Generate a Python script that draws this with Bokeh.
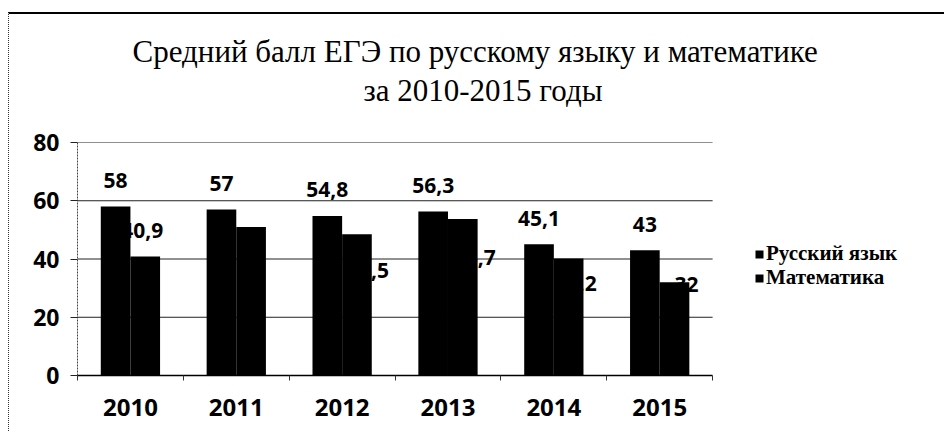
from bokeh.plotting import figure
from bokeh.models import (Range1d, Title, ColumnDataSource, FixedTicker,
                          Legend, LegendItem)
from bokeh.transform import dodge
from bokeh.core.properties import value
from bokeh.embed import file_html
from bokeh.resources import INLINE

# ---- data ----
years = ["2010", "2011", "2012", "2013", "2014", "2015"]
russian = [58, 57, 54.8, 56.3, 45.1, 43]
math = [40.9, 51, 48.5, 53.7, 40.2, 32]
series_names = ["Русский язык", "Математика"]
y_ticks = [0, 20, 40, 60, 80]
title_lines = ["Средний балл ЕГЭ по русскому языку и математике", "за 2010-2015 годы"]

# pixel displacement of the (misplaced) math data labels in the original
math_label_dx = [-3, 0, 11, 12, 7, 12]
math_label_dy = [-26, 40, 36, 38, 25, 2]


def fmt(v):
    return ("%g" % v).replace(".", ",")


n = len(years)
pos = list(range(n))                      # category slots 0..n-1
cat_lo, cat_hi = -0.5, n - 0.5            # extent of the category axis

src = ColumnDataSource(dict(
    pos=pos,
    russian=russian,
    math=math,
    rus_lbl=[fmt(v) for v in russian],
    math_lbl=[fmt(v) for v in math],
    mdx=math_label_dx,
    mdy=math_label_dy,
))

# the frame is extended to the right (empty space) so the legend can live in it
p = figure(
    x_range=Range1d(cat_lo, cat_lo + 8.2),
    y_range=Range1d(0, 80),
    width=936, height=419,
    output_backend="svg",
    toolbar_location=None,
    title=None,
    min_border_left=68, min_border_right=0,
    min_border_top=128, min_border_bottom=58,
)
p.margin = (12, 0, 0, 8)
p.styles = {"border-top": "2px solid black", "border-left": "1px dotted #333"}
p.outline_line_color = None
p.background_fill_color = "white"
p.border_fill_color = "white"

serif = "Liberation Serif"
t2 = Title(text=title_lines[1], align="left", offset=286, standoff=69,
           text_font=serif, text_font_size="31px",
           text_font_style="normal", text_color="black")
t1 = Title(text=title_lines[0], align="left", offset=55, standoff=-65,
           text_font=serif, text_font_size="31px",
           text_font_style="normal", text_color="black")
p.add_layout(t2, "above")
p.add_layout(t1, "above")

# horizontal gridlines limited to the category area
grid_y = [t for t in y_ticks if t > 0]
p.segment(x0=[cat_lo] * len(grid_y), x1=[cat_hi] * len(grid_y), y0=grid_y, y1=grid_y,
          line_color="#222", line_width=1)

# math labels drawn first so the bars hide them partly (as in the original)
p.text(x=dodge("pos", 0.14), y="math", text="math_lbl",
       x_offset="mdx", y_offset="mdy", source=src,
       text_align="center", text_baseline="middle",
       text_font=value("Open Sans"), text_font_size="21px",
       text_font_style="bold", text_color="black")

r_rus = p.vbar(x=dodge("pos", -0.14), top="russian", width=0.28,
               source=src, fill_color="black", line_color=None)
r_math = p.vbar(x=dodge("pos", 0.14), top="math", width=0.28,
                source=src, fill_color="black", line_color=None)

p.text(x=dodge("pos", -0.14), y="russian", text="rus_lbl",
       y_offset=-26, source=src,
       text_align="center", text_baseline="middle",
       text_font=value("Open Sans"), text_font_size="21px",
       text_font_style="bold", text_color="black")

# axes
p.yaxis.ticker = FixedTicker(ticks=y_ticks)
p.yaxis.axis_line_color = "#444"
p.yaxis.axis_line_dash = "2 1"
p.yaxis.major_tick_out = 7
p.yaxis.major_tick_in = 0
p.yaxis.major_tick_line_color = "#222"
p.yaxis.minor_tick_line_color = None
p.yaxis.major_label_standoff = 11
p.yaxis.major_label_text_font = "Open Sans"
p.yaxis.major_label_text_font_size = "23px"
p.yaxis.major_label_text_font_style = "bold"
p.yaxis.major_label_text_color = "black"

p.xaxis.ticker = FixedTicker(ticks=pos, minor_ticks=[i - 0.5 for i in range(n + 1)])
p.xaxis.major_label_overrides = {i: y for i, y in zip(pos, years)}
p.xaxis.bounds = (cat_lo, cat_hi)
p.xaxis.axis_line_color = "black"
p.xaxis.axis_line_width = 1.5
p.xaxis.major_tick_line_color = None
p.xaxis.major_tick_out = 0
p.xaxis.major_tick_in = 0
p.xaxis.minor_tick_line_color = "#333"
p.xaxis.minor_tick_out = 5
p.xaxis.minor_tick_in = 0
p.xaxis.major_label_standoff = 18
p.xaxis.major_label_text_font = "Open Sans"
p.xaxis.major_label_text_font_size = "24px"
p.xaxis.major_label_text_font_style = "bold"
p.xaxis.major_label_text_color = "black"

p.xgrid.grid_line_color = None
p.ygrid.grid_line_color = None

# legend (one entry per box, to control the row pitch), in the empty right part of the frame
legend_style = dict(orientation="vertical", padding=0, margin=0, spacing=0,
                    border_line_color=None, background_fill_alpha=0,
                    glyph_width=10, glyph_height=10, label_standoff=2, label_height=20,
                    label_text_font=serif, label_text_font_size="21px",
                    label_text_font_style="bold", label_text_color="black")
lg1 = Legend(items=[LegendItem(label=series_names[0], renderers=[r_rus])],
             location=(677, 109), **legend_style)
lg2 = Legend(items=[LegendItem(label=series_names[1], renderers=[r_math])],
             location=(677, 85), **legend_style)
p.add_layout(lg1, "center")
p.add_layout(lg2, "center")

open("out.html", "w").write(file_html(p, INLINE))
